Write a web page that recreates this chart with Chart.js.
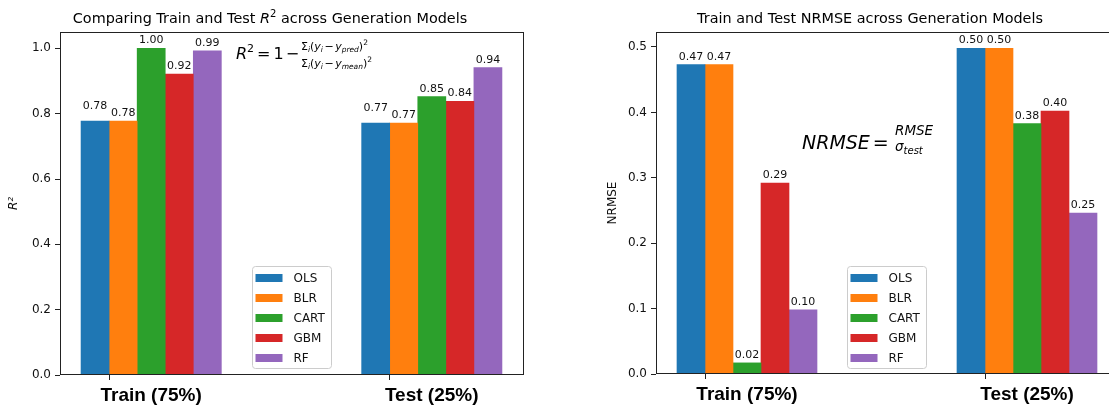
<!DOCTYPE html>
<html>
<head>
<meta charset="utf-8">
<script src="https://cdn.jsdelivr.net/npm/chart.js@4.4.1/dist/chart.umd.min.js"></script>
<style>
  html, body { margin: 0; padding: 0; background: #fff; overflow: hidden; width: 1109px; height: 406px; }
  canvas { position: absolute; top: 0; }
  #r2Chart { left: 0; }
  #nrmseChart { left: 560px; }
</style>
</head>
<body>
<canvas id="r2Chart" width="560" height="406"></canvas>
<canvas id="nrmseChart" width="600" height="406"></canvas>
<script>
// ---- data ----
const groups = ['Train (75%)', 'Test (25%)'];
const models = ['OLS', 'BLR', 'CART', 'GBM', 'RF'];
const modelColors = ['#1f77b4', '#ff7f0e', '#2ca02c', '#d62728', '#9467bd'];

const r2Train = [0.777, 0.777, 1.000, 0.921, 0.992];
const r2Test  = [0.771, 0.771, 0.852, 0.838, 0.941];

const nrmseTrain = [0.473, 0.473, 0.017, 0.292, 0.098];
const nrmseTest  = [0.498, 0.498, 0.383, 0.402, 0.246];

const r2Ticks = [0.0, 0.2, 0.4, 0.6, 0.8, 1.0];
const nrmseTicks = [0.0, 0.1, 0.2, 0.3, 0.4, 0.5];

// ---- layout helpers ----
const BAR_W = 0.1;          // width of one bar in group units
const X_MIN = -BAR_W - 0.075;
const X_MAX = (groups.length - 1) + 4 * BAR_W + 0.075;
const FONT = '"DejaVu Sans", sans-serif';

function buildDatasets(train, test) {
  const perGroup = [train, test];
  return models.map((name, i) => ({
    label: name,
    backgroundColor: modelColors[i],
    borderWidth: 0,
    grouped: false,
    barPercentage: 1.0,
    categoryPercentage: 1.0,
    data: groups.map((g, gi) => ({ x: gi + (i - 0.5) * BAR_W, y: perGroup[gi][i] }))
  }));
}

// draw a run of mixed-style text; returns end x
function drawRuns(ctx, runs, x, y, baseSize, measureOnly) {
  for (const r of runs) {
    if (r.gap) { x += r.gap; continue; }
    const sz = r.sz || baseSize;
    ctx.font = (r.it ? 'italic ' : '') + sz + 'px ' + FONT;
    if (!measureOnly) ctx.fillText(r.t, x, y + (r.dy || 0));
    x += ctx.measureText(r.t).width;
  }
  return x;
}

const decoPlugin = {
  id: 'deco',
  afterDatasetsDraw(chart, args, opts) {
    const ctx = chart.ctx;
    const ca = chart.chartArea;
    ctx.save();
    // frame around the plotting area
    ctx.strokeStyle = '#222';
    ctx.lineWidth = 1;
    ctx.strokeRect(Math.round(ca.left) + 0.5, Math.round(ca.top) + 0.5,
                   Math.round(ca.right - ca.left), Math.round(ca.bottom - ca.top) - 1);

    // value labels above each bar
    ctx.fillStyle = '#111';
    ctx.font = '11px ' + FONT;
    ctx.textAlign = 'center';
    ctx.textBaseline = 'alphabetic';
    chart.data.datasets.forEach((ds, di) => {
      const meta = chart.getDatasetMeta(di);
      const lift = (opts.labelLift && opts.labelLift[di]) || 0;
      meta.data.forEach((el, j) => {
        const v = ds.data[j].y;
        ctx.fillText(v.toFixed(2), el.x, el.y - 5 - lift);
      });
    });
    ctx.restore();
  },
  afterDraw(chart, args, opts) {
    const ctx = chart.ctx;
    const ca = chart.chartArea;
    ctx.save();
    ctx.fillStyle = '#000';
    ctx.textBaseline = 'alphabetic';
    ctx.textAlign = 'left';

    // title
    const tw = drawRuns(ctx, opts.title, 0, 0, 14.4, true);
    drawRuns(ctx, opts.title, ca.left + opts.titleCenter - tw / 2, 23, 14.4, false);

    // formula pieces
    opts.formula.forEach(p => {
      drawRuns(ctx, p.runs, ca.left + p.x, ca.top + p.y, p.size, false);
    });

    // legend
    const L = opts.legend;
    const bx = Math.round(ca.left + L.x) + 0.5;
    const bh = 102, bw = 79;
    const by = Math.round(ca.bottom - L.gap - bh) + 0.5;
    ctx.beginPath();
    ctx.roundRect(bx, by, bw, bh, 3);
    ctx.fillStyle = 'rgba(255,255,255,0.8)';
    ctx.fill();
    ctx.strokeStyle = '#cccccc';
    ctx.lineWidth = 1;
    ctx.stroke();
    ctx.font = '12px ' + FONT;
    ctx.textBaseline = 'middle';
    chart.data.datasets.forEach((ds, k) => {
      const cy = by + 11.5 + k * 20;
      ctx.fillStyle = ds.backgroundColor;
      ctx.fillRect(bx + 3, cy - 4, 27, 8);
      ctx.fillStyle = '#111';
      ctx.fillText(ds.label, bx + 41, cy + 0.5);
    });
    ctx.restore();
  }
};

function makeChart(id, train, test, cfg) {
  const yMax = Math.max(...train, ...test) * 1.05;
  return new Chart(document.getElementById(id), {
    type: 'bar',
    data: { datasets: buildDatasets(train, test) },
    plugins: [decoPlugin],
    options: {
      responsive: false,
      animation: false,
      devicePixelRatio: 1,
      layout: { padding: cfg.padding },
      scales: {
        x: {
          type: 'linear',
          offset: false,
          bounds: 'data',
          min: X_MIN,
          max: X_MAX,
          afterDataLimits: s => { s.min = X_MIN; s.max = X_MAX; },
          afterBuildTicks: s => {
            s.ticks = groups.map((g, gi) => ({ value: gi }));
            s.min = X_MIN; s.max = X_MAX;
          },
          afterFit: s => { s.height = cfg.xHeight; },
          grid: { display: true, offset: false, drawOnChartArea: false, drawTicks: true, tickLength: 5, color: '#222' },
          border: { display: false },
          ticks: {
            callback: v => groups[v],
            labelOffset: 42,
            padding: 4,
            color: '#000',
            maxRotation: 0,
            autoSkip: false,
            font: { family: '"Liberation Sans", Arial, sans-serif', size: 19, weight: 'bold' }
          }
        },
        y: {
          min: 0,
          max: yMax,
          afterBuildTicks: s => { s.ticks = cfg.yTicks.map(v => ({ value: v })); },
          afterFit: s => { s.width = cfg.yWidth; },
          grid: { display: true, drawOnChartArea: false, drawTicks: true, tickLength: 5, color: '#222' },
          border: { display: false },
          ticks: {
            callback: v => v.toFixed(1),
            padding: 4,
            color: '#111',
            font: { family: FONT, size: 12 }
          },
          title: {
            display: true,
            text: cfg.yTitle,
            color: '#111',
            padding: { top: cfg.yTitlePad, bottom: 0 },
            font: { family: FONT, size: 12, style: cfg.yTitleItalic ? 'italic' : 'normal' }
          }
        }
      },
      plugins: {
        legend: { display: false },
        tooltip: { enabled: false },
        deco: cfg.deco
      }
    }
  });
}

makeChart('r2Chart', r2Train, r2Test, {
  padding: { top: 32, right: 37, bottom: 0, left: 0 },
  xHeight: 31,
  yWidth: 60,
  yTicks: r2Ticks,
  yTitle: 'R²',
  yTitleItalic: true,
  yTitlePad: 7,
  deco: {
    labelLift: [7, 0, 0, 0, 0],
    titleCenter: 210,
    title: [
      { t: 'Comparing Train and Test ' },
      { t: 'R', it: true },
      { t: '2', sz: 10, dy: -6 },
      { t: ' across Generation Models' }
    ],
    legend: { x: 192, gap: 7 },
    formula: [
      { x: 176, y: 27, size: 16, runs: [
        { t: 'R', it: true }, { t: '2', sz: 11, dy: -7 }, { gap: 3 },
        { t: '=' }, { gap: 3 }, { t: '1' }, { gap: 2 }, { t: '−' }
      ] },
      { x: 241, y: 18, size: 11, runs: [
        { t: 'Σ' }, { t: 'i', it: true, sz: 7.5, dy: 2 }, { t: '(' }, { t: 'y', it: true },
        { t: 'i', it: true, sz: 7.5, dy: 2 }, { gap: 1.5 }, { t: '−' }, { gap: 1.5 },
        { t: 'y', it: true }, { t: 'pred', it: true, sz: 7.5, dy: 2 }, { t: ')' },
        { t: '2', sz: 7.5, dy: -5 }
      ] },
      { x: 241, y: 35, size: 11, runs: [
        { t: 'Σ' }, { t: 'i', it: true, sz: 7.5, dy: 2 }, { t: '(' }, { t: 'y', it: true },
        { t: 'i', it: true, sz: 7.5, dy: 2 }, { gap: 1.5 }, { t: '−' }, { gap: 1.5 },
        { t: 'y', it: true }, { t: 'mean', it: true, sz: 7.5, dy: 2 }, { t: ')' },
        { t: '2', sz: 7.5, dy: -5 }
      ] }
    ]
  }
});

makeChart('nrmseChart', nrmseTrain, nrmseTest, {
  padding: { top: 32, right: 42, bottom: 0, left: 0 },
  xHeight: 32,
  yWidth: 96,
  yTicks: nrmseTicks,
  yTitle: 'NRMSE',
  yTitleItalic: false,
  yTitlePad: 46,
  deco: {
    labelLift: [0, 0, 0, 0, 0],
    titleCenter: 214,
    title: [{ t: 'Train and Test NRMSE across Generation Models' }],
    legend: { x: 191, gap: 6 },
    formula: [
      { x: 146, y: 117, size: 19, runs: [
        { t: 'NRMSE', it: true }, { gap: 3 }, { t: '=' }
      ] },
      { x: 239, y: 103, size: 13.5, runs: [ { t: 'RMSE', it: true } ] },
      { x: 239, y: 119, size: 13.5, runs: [
        { t: 'σ', it: true }, { t: 'test', it: true, sz: 10, dy: 3 }
      ] }
    ]
  }
});
</script>
</body>
</html>
